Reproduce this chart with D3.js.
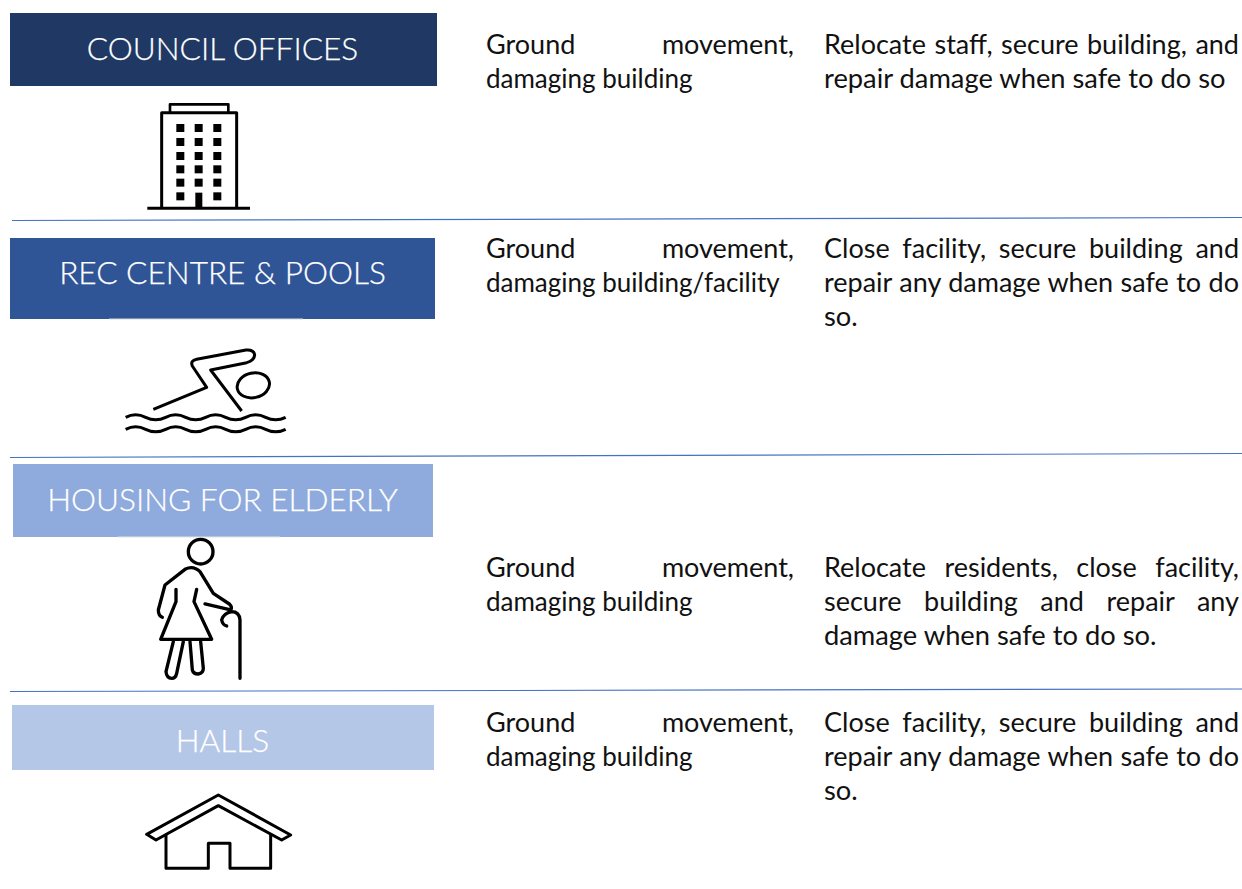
<!DOCTYPE html>
<html>
<head>
<meta charset="utf-8">
<script src="https://cdnjs.cloudflare.com/ajax/libs/d3/7.8.5/d3.min.js"></script>
<style>
  html, body { margin: 0; background: #fff; }
  svg { display: block; }
  .head { font-family: Lato, sans-serif; font-weight: 300; fill: #fff; stroke: #fff; stroke-width: 0.25; text-anchor: middle; }
  .cell { font-family: Lato, sans-serif; fill: #111; }
  .icon { fill: none; stroke: #000; stroke-linejoin: round; }
</style>
</head>
<body>
<svg id="chart" width="1242" height="889"></svg>
<script>
var titles = ['COUNCIL OFFICES', 'REC CENTRE & POOLS', 'HOUSING FOR ELDERLY', 'HALLS'];
var titleColors = ['#203864', '#2f5597', '#8faadc', '#b4c7e7'];
var hazards = [
  ['Ground movement,', 'damaging building'],
  ['Ground movement,', 'damaging building/facility'],
  ['Ground movement,', 'damaging building'],
  ['Ground movement,', 'damaging building']
];
var responses = [
  ['Relocate staff, secure building, and', 'repair damage when safe to do so'],
  ['Close facility, secure building and', 'repair any damage when safe to do', 'so.'],
  ['Relocate residents, close facility,', 'secure building and repair any', 'damage when safe to do so.'],
  ['Close facility, secure building and', 'repair any damage when safe to do', 'so.']
];

// layout
var boxes = [
  {x0: 10, x1: 437, y0: 13, y1: 86},
  {x0: 10, x1: 435, y0: 238, y1: 319},
  {x0: 13, x1: 433, y0: 464, y1: 537},
  {x0: 12, x1: 434, y0: 705, y1: 770}
];
var titleBaselines = [60, 283.5, 510.5, 751.5];
var textTops = [54, 258, 577, 732];
var lineStep = 34;
var rules = [[12, 220.5, 1242, 217.5], [10, 457.5, 1242, 453.5], [10, 691.5, 1242, 689]];
var hazardCol = {x: 486, right: 794, size: 27, lastSize: 26};
var responseCol = {x: 824, right: 1239, size: 27, lastSize: 27.3};

var svg = d3.select('#chart');

svg.selectAll('line.rule').data(rules).join('line')
  .attr('class', 'rule')
  .attr('x1', function (d) { return d[0]; })
  .attr('y1', function (d) { return d[1]; })
  .attr('x2', function (d) { return d[2]; })
  .attr('y2', function (d) { return d[3]; })
  .attr('stroke', '#4472c4')
  .attr('stroke-width', 1.2);

// header bands
svg.selectAll('rect.head-box').data(boxes).join('rect')
  .attr('class', 'head-box')
  .attr('x', function (d) { return d.x0; })
  .attr('y', function (d) { return d.y0; })
  .attr('width', function (d) { return d.x1 - d.x0; })
  .attr('height', function (d) { return d.y1 - d.y0; })
  .attr('fill', function (d, i) { return titleColors[i]; });

svg.selectAll('text.head').data(titles).join('text')
  .attr('class', 'head')
  .attr('x', 222.5)
  .attr('y', function (d, i) { return titleBaselines[i]; })
  .attr('font-size', 31.6)
  .text(function (d) { return d; });

// faint leftovers under two of the bands
svg.append('line').attr('x1', 109).attr('x2', 303).attr('y1', 319).attr('y2', 319).attr('stroke', '#d9d9d9');
svg.append('line').attr('x1', 118).attr('x2', 280).attr('y1', 537).attr('y2', 537).attr('stroke', '#e4e4e4');

// justified lines: every line but the last of a block is stretched to the column
function drawBlock(lines, col, top) {
  lines.forEach(function (line, i) {
    var last = i === lines.length - 1;
    var t = svg.append('text')
      .attr('class', 'cell')
      .attr('x', col.x)
      .attr('y', top + i * lineStep)
      .attr('font-size', last ? col.lastSize : col.size)
      .text(line);
    var gaps = line.split(' ').length - 1;
    if (!last && gaps > 0) {
      var extra = (col.right - col.x) - t.node().getComputedTextLength();
      t.style('word-spacing', (extra / gaps) + 'px');
    }
  });
}

hazards.forEach(function (lines, i) { drawBlock(lines, hazardCol, textTops[i]); });
responses.forEach(function (lines, i) { drawBlock(lines, responseCol, textTops[i]); });

// icons, path units are 3x pixels
function icon(x, y) {
  return svg.append('g').attr('class', 'icon')
    .attr('transform', 'translate(' + x + ',' + y + ') scale(0.3333)');
}

var office = icon(130, 90);
office.append('path').attr('stroke-width', 8).attr('d', 'M120,66V43H295V66');
office.append('path').attr('stroke-width', 9).attr('d', 'M95,355V68H320V355');
office.append('path').attr('stroke-width', 9).attr('d', 'M52,355H360');
var winCols = [151, 206, 262];
var winRows = [114, 156, 198, 238, 278, 319];
winRows.forEach(function (wy, r) {
  winCols.forEach(function (wx, c) {
    if (r === 5 && c === 1) return;
    office.append('rect').attr('x', wx - 12).attr('y', wy - 12)
      .attr('width', 24).attr('height', 24)
      .attr('fill', '#000').attr('stroke', 'none');
  });
});
office.append('rect').attr('x', 196).attr('y', 308).attr('width', 21).attr('height', 47)
  .attr('fill', '#000').attr('stroke', 'none');

var swim = icon(110, 310);
swim.attr('stroke-width', 9);
swim.append('path').attr('d', 'M130,298L290,232L247,168Q240,152 260,148L408,120Q432,118 434,135Q432,153 410,158L302,180L395,303');
swim.append('ellipse').attr('cx', 430).attr('cy', 226).attr('rx', 49).attr('ry', 37)
  .attr('transform', 'rotate(-12 430 226)');
[322, 358].forEach(function (wy) {
  var p = d3.path();
  p.moveTo(47, wy);
  for (var k = 0; k < 4; k++) {
    var x = 47 + k * 120;
    p.bezierCurveTo(x + 20, wy - 10, x + 40, wy - 10, x + 60, wy);
    p.bezierCurveTo(x + 80, wy + 10, x + 100, wy + 10, x + 120, wy);
  }
  swim.append('path').attr('d', p.toString());
});

var elder = icon(130, 530);
elder.attr('stroke-width', 10).attr('stroke-linecap', 'round');
elder.append('circle').attr('cx', 212).attr('cy', 65).attr('r', 37);
elder.append('path').attr('d', 'M97,262Q85,257 85,240L105,165L165,118Q190,105 210,125L250,190L298,222Q308,232 302,240L225,222');
elder.append('path').attr('d', 'M138,178L138,215L92,328H245L192,215L200,178');
elder.append('path').attr('d', 'M130,335L108,425Q110,445 125,445Q137,445 140,430L160,335');
elder.append('path').attr('d', 'M180,335L187,420Q190,432 205,432Q220,430 220,415L212,335');
elder.append('path').attr('d', 'M330,445V270Q328,245 305,245Q280,250 275,270Q278,285 290,288');

var hall = icon(130, 785);
hall.attr('stroke-width', 9);
hall.append('path').attr('d', 'M265,30L482,150L455,165L265,62L78,165L50,148Z');
hall.append('path').attr('d', 'M108,148V250H235V175H300V250H422V148');
</script>
</body>
</html>
